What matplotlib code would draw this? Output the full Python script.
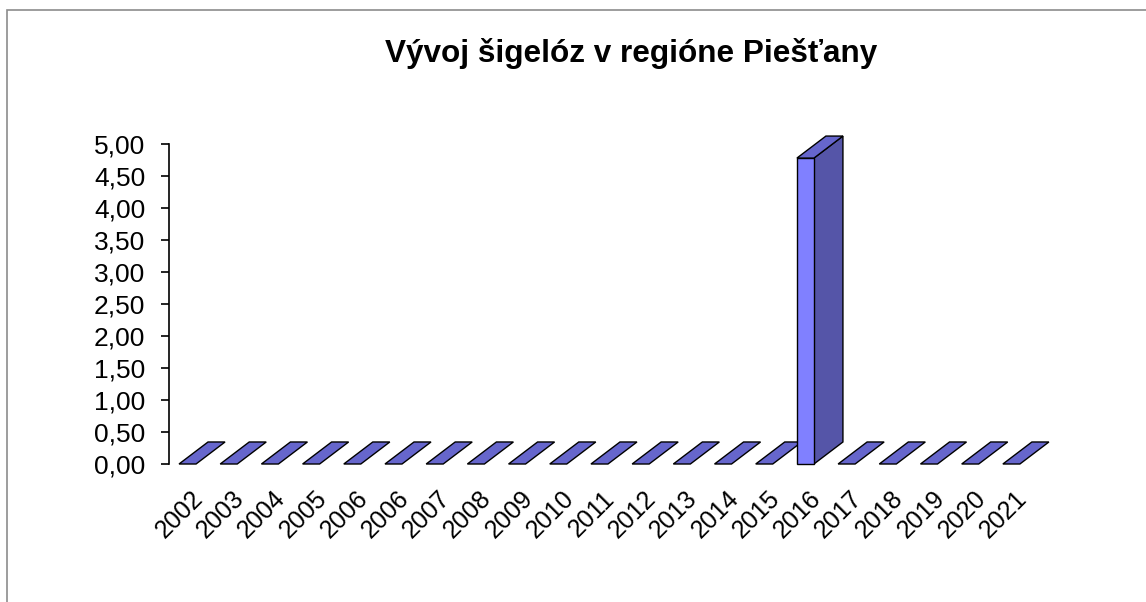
import matplotlib
matplotlib.use("Agg")
import matplotlib.pyplot as plt
from matplotlib.patches import Polygon, Rectangle

# data
years = ["2002", "2003", "2004", "2005", "2006", "2006", "2007", "2008", "2009", "2010",
         "2011", "2012", "2013", "2014", "2015", "2016", "2017", "2018", "2019", "2020", "2021"]
values = [0.00, 0.00, 0.00, 0.00, 0.00, 0.00, 0.00, 0.00, 0.00, 0.00,
          0.00, 0.00, 0.00, 0.00, 0.00, 4.78, 0.00, 0.00, 0.00, 0.00, 0.00]
title = "Vývoj šigelóz v regióne Piešťany"
yticks = [0.0, 0.5, 1.0, 1.5, 2.0, 2.5, 3.0, 3.5, 4.0, 4.5, 5.0]

plt.rcParams['font.family'] = ['Liberation Sans', 'DejaVu Sans']

W, H = 1146, 602
fig = plt.figure(figsize=(W / 100, H / 100), dpi=100)
fig.patch.set_facecolor("white")

# grey frame of the chart area
fig.patches.append(Rectangle((7 / W, -0.1), 1.2, (H - 9.5) / H + 0.1, transform=fig.transFigure,
                             fill=False, edgecolor="#8c8c8c", linewidth=1.2))

ax = fig.add_axes([169 / W, 138 / H, (1060 - 169) / W, 320 / H])
ax.set_xlim(-0.45, 21.18)
ax.set_ylim(0, 5)

# 3d look: front width and depth offsets in data units
wf = 0.413
dx = 0.704
dy = 0.344
front_c = "#8080ff"
top_c = "#6666cc"
side_c = "#5555a8"

for i, v in enumerate(values):
    x0 = i - wf / 2
    x1 = i + wf / 2
    side = Polygon([(x1, 0), (x1 + dx, dy), (x1 + dx, v + dy), (x1, v)],
                   facecolor=side_c, edgecolor="black", lw=1, clip_on=False, zorder=2 + i)
    top = Polygon([(x0, v), (x1, v), (x1 + dx, v + dy), (x0 + dx, v + dy)],
                  facecolor=top_c, edgecolor="black", lw=1, clip_on=False, zorder=2 + i)
    front = Polygon([(x0, 0), (x1, 0), (x1, v), (x0, v)],
                    facecolor=front_c, edgecolor="black", lw=1, clip_on=False, zorder=2 + i)
    if v > 0:
        ax.add_patch(side)
        ax.add_patch(front)
    ax.add_patch(top)

for s in ["top", "right", "bottom"]:
    ax.spines[s].set_visible(False)
ax.spines["left"].set_linewidth(1.2)

ax.set_yticks(yticks)
ax.set_yticklabels([f"{t:.2f}".replace(".", ",") for t in yticks])
ax.tick_params(axis="y", length=6, width=1.2, pad=11, labelsize=19, direction="out")

ax.set_xticks([i + 0.08 for i in range(len(years))])
ax.set_xticklabels(years, rotation=45, ha="right", rotation_mode="anchor", fontsize=18)
ax.tick_params(axis="x", length=0, pad=16)

fig.text(631 / W, (H - 62) / H, title, ha="center", va="baseline",
         fontsize=22.7, fontweight="bold")

fig.savefig("out.png", dpi=100)
